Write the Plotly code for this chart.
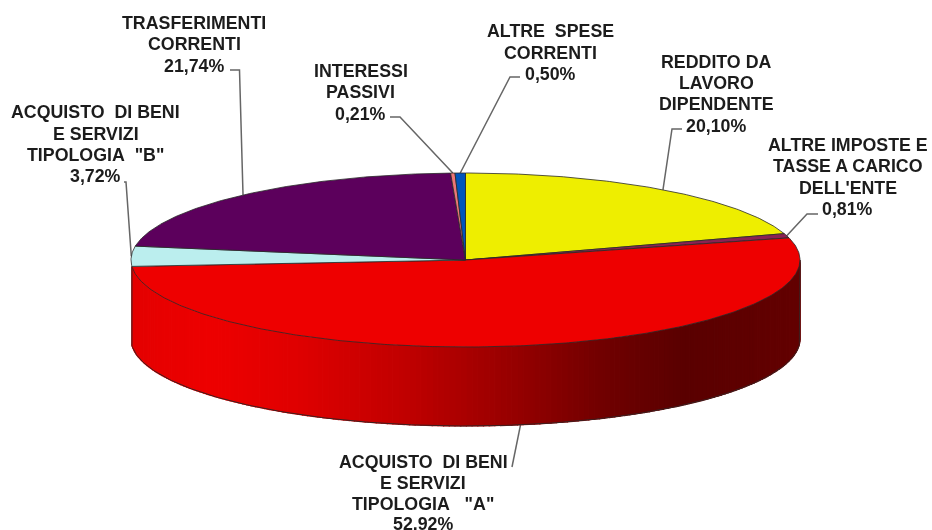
import numpy as np
import plotly.graph_objects as go

# ---- data (percent, clockwise from 12 o'clock) ----
categories = ["REDDITO DA LAVORO DIPENDENTE", "ALTRE IMPOSTE E TASSE A CARICO DELL'ENTE",
              "ACQUISTO DI BENI E SERVIZI TIPOLOGIA \"A\"", "ACQUISTO DI BENI E SERVIZI TIPOLOGIA \"B\"",
              "TRASFERIMENTI CORRENTI", "INTERESSI PASSIVI", "ALTRE SPESE CORRENTI"]
values = [20.10, 0.81, 52.92, 3.72, 21.74, 0.21, 0.50]
colors = ["#EEEE00", "#8B2252", "#EE0000", "#BBEEEE", "#5C005C", "#EE7777", "#0055BB"]

label_lines = [
    ["REDDITO DA", "LAVORO", "DIPENDENTE", "20,10%"],
    ["ALTRE IMPOSTE E", "TASSE A CARICO", "DELL'ENTE", "0,81%"],
    ["ACQUISTO\u00a0 DI BENI", "E SERVIZI", "TIPOLOGIA\u00a0 \u00a0\"A\"", "52,92%"],
    ["ACQUISTO\u00a0 DI BENI", "E SERVIZI", "TIPOLOGIA\u00a0 \"B\"", "3,72%"],
    ["TRASFERIMENTI", "CORRENTI", "21,74%"],
    ["INTERESSI", "PASSIVI", "0,21%"],
    ["ALTRE\u00a0 SPESE", "CORRENTI", "0,50%"],
]
label_x = [716, 847.5, 423, 95.5, 194, 360.5, 550]
label_y = [[62, 83, 104, 126], [145, 166, 188, 209], [462, 483, 504, 524],
           [112, 133.5, 154.5, 175.5], [23, 44, 66], [71, 92, 114], [31, 53, 74]]
# leader line knots, from the text end towards the slice
leader_knots = [[(682, 129), (672, 129)], [(818, 214), (807, 214)], [(512, 467)],
                [(124, 182), (126, 182)], [(230, 70), (239.5, 70)],
                [(390, 117), (400, 117)], [(520, 77), (510, 77)]]

# side gradient stops: x position -> colour
grad_x = [131, 210, 296, 406, 516, 605, 684, 800]
grad_rgb = [(228, 0, 0), (238, 0, 0), (224, 0, 0), (192, 0, 0), (150, 0, 0), (112, 0, 0), (90, 0, 0), (100, 0, 0)]

# geometry of the tilted disc
CX, CY, RX, RY, DEPTH = 465.5, 260, 334.5, 87, 79
EDGE = "#2a2a2a"


def ell(t, dy=0):
    t = np.asarray(t, dtype=float)
    return CX + RX * np.sin(t), CY - RY * np.cos(t) + dy


fractions = np.array(values) / sum(values)
edges = np.concatenate([[0], np.cumsum(fractions)]) * 2 * np.pi
mids = (edges[:-1] + edges[1:]) / 2

traces = []

# leader lines (below the pie)
for i, knots in enumerate(leader_knots):
    drop = DEPTH if np.cos(mids[i]) < -0.5 else 0
    ax, ay = ell(mids[i], drop)
    xs = [k[0] for k in knots] + [float(ax)]
    ys = [k[1] for k in knots] + [float(ay)]
    traces.append(go.Scatter(x=xs, y=ys, mode="lines", line=dict(color="#666666", width=1.5),
                             hoverinfo="skip", showlegend=False))

# front wall of the red slice, in thin vertical strips, coloured by horizontal position
t_start = np.pi / 2
t_end = edges[3]
strip_t = np.linspace(t_start, t_end, 181)
for a, b in zip(strip_t[:-1], strip_t[1:]):
    tt = np.linspace(a, b, 3)
    xt, yt = ell(tt)
    xb, yb = ell(tt[::-1], DEPTH)
    xm = (xt[0] + xt[-1]) / 2
    rgb = [int(np.interp(xm, grad_x, [c[k] for c in grad_rgb])) for k in range(3)]
    col = "rgb(%d,%d,%d)" % tuple(rgb)
    traces.append(go.Scatter(x=np.r_[xt, xb, xt[0]], y=np.r_[yt, yb, yt[0]], mode="lines", fill="toself",
                             fillcolor=col, line=dict(color=col, width=1.2),
                             hoverinfo="skip", showlegend=False))

# wall outline
tt = np.linspace(t_start, t_end, 240)
xb, yb = ell(tt, DEPTH)
xt0, yt0 = ell([t_start])
xt1, yt1 = ell([t_end])
traces.append(go.Scatter(x=np.r_[xt0, xb, xt1], y=np.r_[yt0, yb, yt1], mode="lines",
                         line=dict(color="#3a2020", width=1), hoverinfo="skip", showlegend=False))

# top face slices
for i, c in enumerate(colors):
    tt = np.linspace(edges[i], edges[i + 1], max(3, int(values[i] * 6)))
    xe, ye = ell(tt)
    traces.append(go.Scatter(x=np.r_[CX, xe, CX], y=np.r_[CY, ye, CY], mode="lines", fill="toself",
                             fillcolor=c, line=dict(color=EDGE, width=0.8),
                             name=categories[i], hoverinfo="name", showlegend=False))

annotations = []
for lines, x, ys in zip(label_lines, label_x, label_y):
    for line, y in zip(lines, ys):
        annotations.append(dict(x=x, y=y, xref="x", yref="y", text="<b>" + line + "</b>", showarrow=False,
                                xanchor="center", yanchor="middle",
                                font=dict(family="Liberation Sans", size=17.8, color="#1c1c1c")))

fig = go.Figure(traces)
fig.update_layout(width=932, height=530, margin=dict(l=0, r=0, t=0, b=0),
                  paper_bgcolor="white", plot_bgcolor="white", showlegend=False,
                  annotations=annotations,
                  xaxis=dict(range=[0, 932], visible=False, fixedrange=True),
                  yaxis=dict(range=[530, 0], visible=False, fixedrange=True))
fig.write_html("out.html", config=dict(displayModeBar=False),
               post_script="document.body.style.margin='0';document.body.style.overflow='hidden';"
                           "document.querySelector('.plotly-graph-div').style.filter='blur(0.45px)';")
